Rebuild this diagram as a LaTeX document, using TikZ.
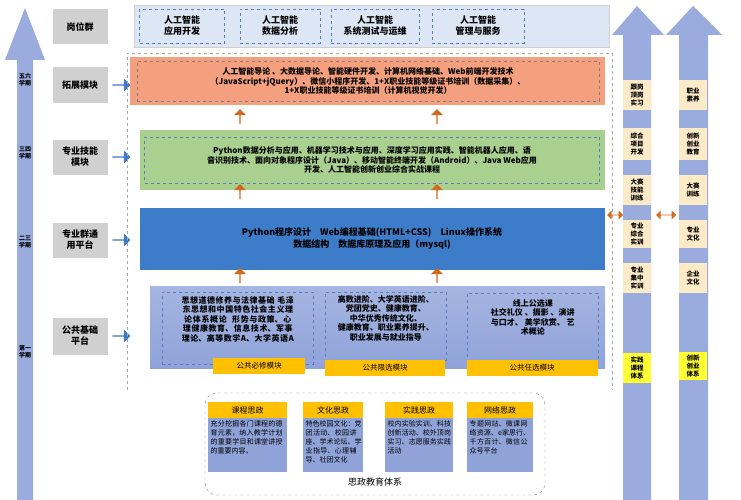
\documentclass[tikz,border=0pt]{standalone}
\usepackage{fontspec}
\setmainfont{Noto Sans CJK SC}
\XeTeXlinebreaklocale "zh"
\XeTeXlinebreakskip=0pt plus 1pt
\usetikzlibrary{arrows.meta,shapes.arrows}
\definecolor{gbox}{HTML}{D0D0D0}
\definecolor{bluearr}{HTML}{3F7AC8}
\definecolor{oarr}{HTML}{D2691E}
\definecolor{peri}{HTML}{8FA3D9}
\definecolor{orng}{HTML}{F4A07E}
\definecolor{grn}{HTML}{A9D08E}
\definecolor{plat}{HTML}{3D7CC9}
\definecolor{ltblue}{HTML}{DCE6F4}
\definecolor{ylw}{HTML}{FFC000}
\definecolor{cream}{HTML}{FDEBC8}
\definecolor{pylw}{HTML}{FFFF33}
\definecolor{dbl}{HTML}{5B7DBF}
\tikzset{
 x=1pt,y=-1pt,
 every node/.style={font=\fontsize{8}{9.5}\selectfont\bfseries, align=center, inner sep=1pt},
 graybox/.style={fill=gbox,font=\fontsize{9}{11}\selectfont\bfseries},
 dbox/.style={draw=dbl,dashed,line width=0.6pt},
 rarr/.style={single arrow,fill=bluearr,minimum height=18pt,minimum width=13pt,single arrow head extend=2pt,inner sep=0pt},
 uarr/.style={single arrow,fill=oarr,shape border rotate=90,minimum height=15pt,minimum width=12pt,single arrow head extend=2pt,inner sep=0pt},
 darr/.style={double arrow,fill=oarr,minimum height=20pt,minimum width=9pt,double arrow head extend=2pt,inner sep=0pt},
 lbl/.style={fill=cream,minimum width=28pt,font=\fontsize{6.5}{8}\selectfont\bfseries},
 ylab/.style={fill=ylw,font=\fontsize{7.5}{9}\selectfont},
 sem/.style={font=\fontsize{6}{7}\selectfont\bfseries}
}
\begin{document}
\begin{tikzpicture}
\useasboundingbox (0,0) rectangle (741,500);
% left arrow
\fill[peri!90] (17,500) -- (17,60) -- (5,60) -- (25,8) -- (45,60) -- (33,60) -- (33,500) -- cycle;
\node[sem] (s1) at (25,80) {五六\\学期};
\node[sem] (s2) at (25,153) {三四\\学期};
\node[sem] (s3) at (25,242) {二三\\学期};
\node[sem] (s4) at (25,352) {第一\\学期};
% gray boxes
\node[graybox,minimum width=55pt,minimum height=35pt] (g1) at (80,27) {岗位群};
\node[graybox,minimum width=55pt,minimum height=36pt] (g2) at (80,85) {拓展模块};
\node[graybox,minimum width=55pt,minimum height=35pt] (g3) at (80,157) {专业技能\\模块};
\node[graybox,minimum width=55pt,minimum height=35pt] (g4) at (80,240) {专业群通\\用平台};
\node[graybox,minimum width=55pt,minimum height=37pt] (g5) at (80,336) {公共基础\\平台};
\node[rarr] (a2) at (121,85) {};
\node[rarr] (a3) at (121,157) {};
\node[rarr] (a4) at (121,240) {};
\node[rarr] (a5) at (121,336) {};
% top band
\node[fill=ltblue,draw=gbox,minimum width=475pt,minimum height=42pt] (top) at (372,26) {};
\node[dbox,minimum width=85pt,minimum height=34pt,font=\fontsize{9}{11}\selectfont\bfseries] (j1) at (182,26) {人工智能\\应用开发};
\node[dbox,minimum width=80pt,minimum height=34pt,font=\fontsize{9}{11}\selectfont\bfseries] (j2) at (280,26) {人工智能\\数据分析};
\node[dbox,minimum width=88pt,minimum height=34pt,font=\fontsize{9}{11}\selectfont\bfseries] (j3) at (375,26) {人工智能\\系统测试与运维};
\node[dbox,minimum width=92pt,minimum height=34pt,font=\fontsize{9}{11}\selectfont\bfseries] (j4) at (478,26) {人工智能\\管理与服务};
% outer dashed
\draw[gbox!80!black,dashed] (127,390) -- (127,53) -- (612,53) -- (612,390);
% orange
\node[fill=orng,minimum width=475pt,minimum height=48pt] (ob) at (367,81) {};
\node[dbox,draw=gray,minimum width=462pt,minimum height=40pt] (oi) at (368,81) {人工智能导论 、大数据导论、智能硬件开发、计算机网络基础、Web前端开发技术\\（JavaScript+jQuery）、微信小程序开发、1+X职业技能等级证书培训（数据采集）、\\1+X职业技能等级证书培训（计算机视觉开发）};
% green
\node[fill=grn,minimum width=465pt,minimum height=60pt] (gb) at (372,160) {};
\node[dbox,minimum width=455pt,minimum height=46pt] (gi) at (372,160) {Python数据分析与应用、机器学习技术与应用、深度学习应用实践、智能机器人应用、语\\音识别技术、面向对象程序设计（Java）、移动智能终端开发（Android）、Java Web应用\\开发、人工智能创新创业综合实战课程};
% platform
\node[fill=plat,minimum width=465pt,minimum height=62pt,font=\fontsize{9}{12}\selectfont\bfseries] (pb) at (372,239) {Python程序设计\quad Web编程基础(HTML+CSS)\quad Linux操作系统\\数据结构\quad 数据库原理及应用（mysql)};
% public
\shade[top color=peri!80,bottom color=peri] (150,286) rectangle (605,368);
\node[dbox,minimum width=151pt,minimum height=72pt,anchor=north west] (p1) at (162,292) {};
\node[anchor=north,text width=128pt] at ([yshift=-3]p1.north) {思想道德修养与法律基础\ 毛泽东思想和中国特色社会主义理论体系概论\ \ 形势与政策、心理健康教育、信息技术、军事理论、高等数学A、大学英语A};
\node[dbox,minimum width=121pt,minimum height=68pt,anchor=north west] (p2) at (325,292) {};
\node[anchor=north] at ([yshift=-2]p2.north) {高数进阶、大学英语进阶、\\党团党史、健康教育、\\中华优秀传统文化、\\健康教育、职业素养提升、\\职业发展与就业指导};
\node[dbox,minimum width=131pt,minimum height=67pt,anchor=north west] (p3) at (467,293) {};
\node[anchor=north] at ([yshift=-5]p3.north) {线上公选课\\社交礼仪 、摄影 、演讲\\与口才、 美学欣赏、 艺\\术概论};
\node[ylab,minimum width=92pt,minimum height=16pt] (y1) at (259,366) {公共必修模块};
\node[ylab,minimum width=120pt,minimum height=16pt] (y2) at (385,368) {公共限选模块};
\node[ylab,minimum width=131pt,minimum height=16pt] (y3) at (532,368) {公共任选模块};
% up arrows
\foreach \xx in {240,437} {
 \node[uarr] at (\xx,117) {};
 \node[uarr] at (\xx,192) {};
 \node[uarr] at (\xx,276) {};
}
% bottom system
\draw[gray,dashed,rounded corners=12pt] (205,393) rectangle (545,495);
\foreach \n/\xa/\xb/\h/\t in {1/208/287/课程思政/{充分挖掘各门课程的德育元素，纳入教学计划的重要学目和课堂讲授的重要内容。},2/303/363/文化思政/{特色校园文化：党团活动、校园讲座、学术论坛、学业指导、心理辅导、社团文化},3/385/453/实践思政/{校内实验实训、科技创新活动、校外顶岗实习、志愿服务实践活动},4/467/533/网络思政/{专题网站、微课网络资源、e家思行、千方百计、微信公众号平台}} {
 \fill[peri] (\xa,418) rectangle (\xb,472);
 \pgfmathsetmacro\ww{\xb-\xa}
 \pgfmathsetmacro\tw{\xb-\xa-4}
 \node[ylab,minimum width=\ww pt,minimum height=16pt,font=\fontsize{8}{9}\selectfont] (h\n) at ({(\xa+\xb)/2},410) {\h};
 \node[anchor=north west,align=left,text width=\tw pt,font=\fontsize{7}{9.2}\selectfont] at (\xa+1.5,419) {\t};
}
\node[font=\fontsize{9}{11}\selectfont] (sz) at (375,482) {思政教育体系};
% right arrows
\fill[peri!90] (623,500) -- (623,35) -- (612,35) -- (637,6) -- (664,35) -- (651,35) -- (651,500) -- cycle;
\fill[peri!90] (679,500) -- (679,35) -- (666,35) -- (693,6) -- (722,35) -- (708,35) -- (708,500) -- cycle;
\node[lbl,minimum height=30pt] (r1) at (637,95) {跟岗\\顶岗\\实习};
\node[lbl,minimum height=32pt] (r2) at (637,144) {综合\\项目\\开发};
\node[lbl,minimum height=30pt] (r3) at (637,190) {大赛\\技能\\训练};
\node[lbl,minimum height=28pt] (r4) at (637,234) {专业\\综合\\实训};
\node[lbl,minimum height=30pt] (r5) at (637,278) {专业\\集中\\实训};
\node[lbl,fill=pylw,minimum height=30pt] (r6) at (637,368) {实践\\课程\\体系};
\node[lbl,minimum height=30pt] (q1) at (693,95) {职业\\素养};
\node[lbl,minimum height=32pt] (q2) at (693,144) {创新\\创业\\教育};
\node[lbl,minimum height=30pt] (q3) at (693,190) {大赛\\训练};
\node[lbl,minimum height=28pt] (q4) at (693,234) {专业\\文化};
\node[lbl,minimum height=30pt] (q5) at (693,278) {企业\\文化};
\node[lbl,fill=pylw,minimum height=28pt] (q6) at (693,366) {创新\\创业\\体系};
\node[darr,minimum height=16pt] (d1) at (615,215) {};
\node[darr] (d2) at (666,215) {};
\end{tikzpicture}
\end{document}
